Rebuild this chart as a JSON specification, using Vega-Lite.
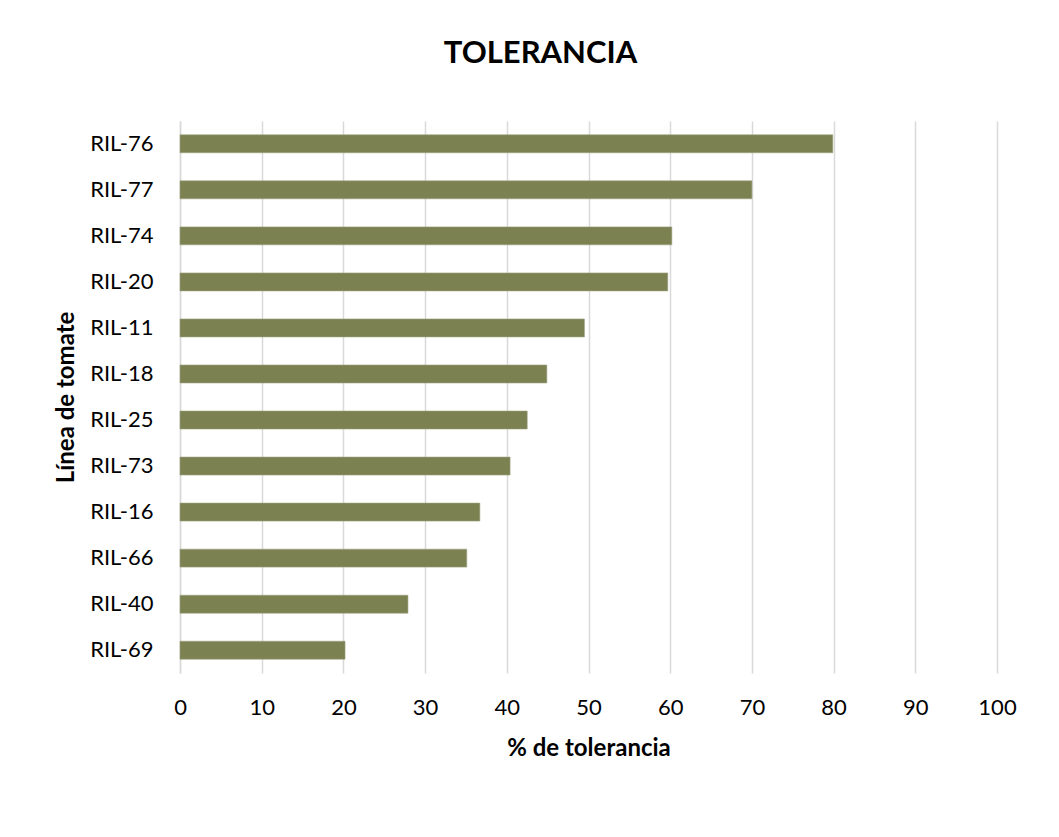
{
  "$schema": "https://vega.github.io/schema/vega-lite/v6.json",
  "autosize": "none",
  "width": 817,
  "height": 552,
  "padding": {"left": 180, "top": 121, "right": 62, "bottom": 164},
  "background": "white",
  "title": {
    "text": "TOLERANCIA",
    "font": "Lato",
    "fontSize": 31,
    "fontWeight": "bold",
    "color": "#000000",
    "anchor": "middle",
    "baseline": "alphabetic",
    "dx": -48,
    "offset": 27
  },
  "data": {
    "values": [
      {"linea": "RIL-76", "tolerancia": 79.9},
      {"linea": "RIL-77", "tolerancia": 70.0},
      {"linea": "RIL-74", "tolerancia": 60.2},
      {"linea": "RIL-20", "tolerancia": 59.7},
      {"linea": "RIL-11", "tolerancia": 49.5},
      {"linea": "RIL-18", "tolerancia": 44.9},
      {"linea": "RIL-25", "tolerancia": 42.5},
      {"linea": "RIL-73", "tolerancia": 40.4},
      {"linea": "RIL-16", "tolerancia": 36.7},
      {"linea": "RIL-66", "tolerancia": 35.1},
      {"linea": "RIL-40", "tolerancia": 27.9},
      {"linea": "RIL-69", "tolerancia": 20.2}
    ]
  },
  "mark": {"type": "bar", "color": "#7b8150", "stroke": "#9ea180", "strokeWidth": 0.6},
  "encoding": {
    "y": {
      "field": "linea",
      "type": "nominal",
      "sort": ["RIL-76","RIL-77","RIL-74","RIL-20","RIL-11","RIL-18","RIL-25","RIL-73","RIL-16","RIL-66","RIL-40","RIL-69"],
      "scale": {"paddingInner": 0.61, "paddingOuter": 0.3},
      "axis": {
        "title": "Línea de tomate",
        "titleFont": "Lato",
        "titleFontSize": 24,
        "titleFontWeight": "bold",
        "titleColor": "#000000",
        "titleX": -107,
        "titleBaseline": "alphabetic",
        "labelFont": "Lato",
        "labelFontSize": 22,
        "labelColor": "#000000",
        "labelPadding": 27,
        "ticks": false,
        "domain": true,
        "domainColor": "#d9d9d9",
        "domainWidth": 1.5,
        "grid": false
      }
    },
    "x": {
      "field": "tolerancia",
      "type": "quantitative",
      "scale": {"domain": [0, 100], "nice": false},
      "axis": {
        "title": "% de tolerancia",
        "titleFont": "Lato",
        "titleFontSize": 24,
        "titleFontWeight": "bold",
        "titleColor": "#000000",
        "titlePadding": 18,
        "values": [0,10,20,30,40,50,60,70,80,90,100],
        "labelFont": "Lato",
        "labelFontSize": 22,
        "labelColor": "#000000",
        "labelPadding": 24,
        "labelFlush": false,
        "ticks": false,
        "domain": false,
        "grid": true,
        "gridColor": "#d9d9d9",
        "gridWidth": 1.5
      }
    }
  },
  "config": {
    "view": {"stroke": null}
  }
}
